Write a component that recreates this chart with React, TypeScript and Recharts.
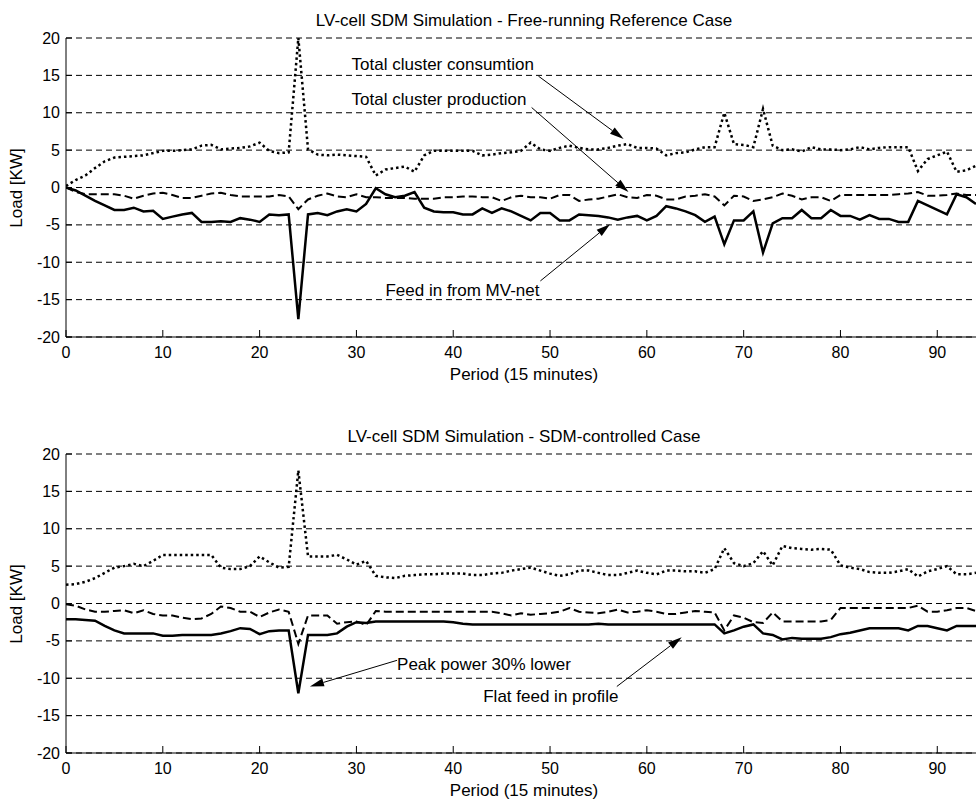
import React from 'react';
import { LineChart, Line, XAxis, YAxis, CartesianGrid, ReferenceLine, ReferenceDot } from 'recharts';

// values, one entry per 15-minute period (0..94)
const refConsumption = [
  0.2, 1.0, 1.6, 2.6, 3.5, 4.0, 4.1, 4.2, 4.3, 4.6,
  4.9, 4.9, 5.0, 5.1, 5.6, 5.7, 5.1, 5.2, 5.3, 5.5,
  6.0, 4.9, 4.6, 4.7, 20.0, 5.1, 4.4, 4.3, 4.4, 4.3,
  4.2, 4.1, 1.6, 2.4, 2.6, 2.8, 2.1, 4.3, 4.9, 4.9,
  4.9, 4.9, 4.9, 4.3, 4.4, 4.6, 4.7, 4.9, 6.0, 5.1,
  4.9, 5.3, 5.6, 5.3, 5.1, 5.1, 5.3, 5.6, 5.8, 5.3,
  5.3, 5.2, 4.3, 4.6, 4.7, 5.1, 5.4, 5.4, 10.0, 5.8,
  5.7, 5.4, 10.5, 5.6, 5.0, 5.1, 4.8, 5.4, 5.1, 5.1,
  5.0, 5.1, 5.4, 5.1, 5.3, 5.4, 5.4, 5.4, 2.2, 3.8,
  4.3, 4.8, 2.1, 2.3, 2.9,
];
const refProduction = [
  0, -0.6, -0.9, -0.9, -0.9, -0.9, -1.1, -1.5, -1.1, -0.8,
  -0.7, -1.0, -1.4, -1.4, -1.1, -0.8, -0.7, -1.0, -1.2, -1.2,
  -1.2, -1.2, -1.0, -1.2, -2.9, -1.6, -1.1, -0.8, -1.2, -1.3,
  -0.9, -1.3, -1.3, -1.4, -1.4, -1.4, -1.5, -1.5, -1.5, -1.3,
  -1.3, -1.2, -1.2, -1.3, -1.3, -1.8, -1.3, -1.1, -1.3, -1.3,
  -1.5, -1.0, -1.0, -1.8, -1.6, -1.5, -1.2, -0.9, -1.3, -1.4,
  -1.0, -1.1, -1.6, -1.6, -1.2, -1.1, -0.9, -1.2, -2.4, -1.1,
  -1.2, -1.8, -1.6, -1.3, -0.8, -1.1, -1.6, -1.3, -1.3, -1.8,
  -1.0, -1.0, -1.0, -1.0, -1.0, -1.0, -0.9, -0.8, -0.6, -1.1,
  -1.1, -1.0, -0.8, -1.0, -1.0,
];
const refFeedIn = [
  0, -0.4, -1.1, -1.8, -2.4, -3.0, -3.0, -2.7, -3.2, -3.1,
  -4.2, -3.9, -3.6, -3.4, -4.6, -4.6, -4.5, -4.6, -4.1, -4.3,
  -4.6, -3.6, -3.7, -3.6, -17.6, -3.6, -3.4, -3.7, -3.2, -2.9,
  -3.2, -2.2, -0.1, -0.9, -1.3, -1.1, -0.6, -2.7, -3.2, -3.3,
  -3.3, -3.6, -3.6, -2.8, -3.4, -2.8, -3.2, -3.8, -4.4, -3.4,
  -3.4, -4.4, -4.4, -3.6, -3.7, -3.8, -4.0, -4.3, -4.0, -3.8,
  -4.4, -3.8, -2.5, -2.8, -3.2, -3.7, -4.6, -3.9, -7.6, -4.4,
  -4.4, -3.2, -8.7, -4.8, -4.1, -4.1, -3.0, -4.1, -4.1, -3.0,
  -3.8, -3.8, -4.3, -3.7, -4.2, -4.2, -4.6, -4.6, -1.8, -2.4,
  -3.0, -3.6, -0.9, -1.3, -2.2,
];

const sdmConsumption = [
  2.5, 2.6, 2.9, 3.4, 4.1, 4.8, 5.0, 5.3, 5.0, 5.7,
  6.5, 6.5, 6.5, 6.5, 6.5, 6.5, 4.8, 4.6, 4.6, 5.0,
  6.3, 5.5, 4.8, 4.9, 17.8, 6.3, 6.3, 6.3, 6.5, 5.9,
  5.2, 5.7, 3.7, 3.5, 3.4, 3.7, 3.8, 3.9, 3.9, 4.0,
  4.0, 4.0, 3.8, 3.8, 4.0, 4.1, 4.4, 4.6, 4.8, 4.4,
  4.0, 3.7, 3.9, 4.4, 4.4, 4.1, 3.8, 3.8, 4.1, 4.4,
  4.1, 3.9, 4.4, 4.4, 4.3, 4.3, 4.1, 4.6, 7.4, 5.4,
  5.0, 5.4, 7.0, 5.1, 7.7, 7.4, 7.3, 7.2, 7.3, 7.2,
  5.1, 4.8, 4.6, 4.2, 4.1, 4.1, 4.3, 4.6, 3.6, 4.3,
  4.6, 5.0, 3.9, 3.9, 4.1,
];
const sdmProduction = [
  -0.1, -0.3, -0.8, -1.1, -1.1, -1.0, -0.9, -1.3, -0.9, -1.4,
  -1.6, -1.6, -1.9, -2.1, -2.0, -1.4, -0.4, -0.6, -1.1, -1.1,
  -1.8, -1.2, -0.8, -1.1, -5.4, -1.6, -1.6, -1.6, -2.7, -2.5,
  -2.4, -2.9, -1.0, -1.1, -1.1, -1.1, -1.1, -1.1, -1.1, -1.1,
  -1.1, -1.1, -1.1, -1.1, -1.1, -1.3, -1.6, -1.3, -1.5, -1.4,
  -1.3, -1.1, -0.6, -1.1, -1.2, -1.3, -1.1, -0.8, -1.2, -1.1,
  -0.9, -1.1, -1.4, -1.4, -1.2, -1.0, -1.1, -1.2, -3.6, -1.6,
  -1.9, -2.5, -2.6, -1.2, -2.4, -2.4, -2.4, -2.4, -2.4, -2.2,
  -0.6, -0.6, -0.6, -0.6, -0.6, -0.6, -0.6, -0.6, -0.3, -1.1,
  -1.1, -0.9, -0.6, -0.6, -1.0,
];
const sdmFeedIn = [
  -2.1, -2.1, -2.2, -2.3, -3.0, -3.6, -4.0, -4.0, -4.0, -4.0,
  -4.3, -4.3, -4.2, -4.2, -4.2, -4.2, -4.0, -3.7, -3.3, -3.4,
  -4.1, -3.7, -3.6, -3.6, -12.0, -4.2, -4.2, -4.2, -4.0, -3.1,
  -2.5, -2.6, -2.4, -2.4, -2.4, -2.4, -2.4, -2.4, -2.4, -2.4,
  -2.5, -2.7, -2.8, -2.8, -2.8, -2.8, -2.8, -2.8, -2.8, -2.8,
  -2.8, -2.8, -2.8, -2.8, -2.8, -2.7, -2.8, -2.8, -2.8, -2.8,
  -2.8, -2.8, -2.8, -2.8, -2.8, -2.8, -2.8, -2.8, -4.0, -3.6,
  -3.1, -2.8, -4.0, -4.2, -4.8, -4.6, -4.7, -4.7, -4.7, -4.5,
  -4.1, -3.9, -3.6, -3.3, -3.3, -3.3, -3.3, -3.6, -3.0, -3.0,
  -3.3, -3.6, -3.0, -3.0, -3.0,
];

const xTicks = [0, 10, 20, 30, 40, 50, 60, 70, 80, 90];
const yTicks = [-20, -15, -10, -5, 0, 5, 10, 15, 20];

// annotations, in data units
const refNotes = [
  { text: 'Total cluster consumtion', x: 29.5, y: 16.4 },
  { text: 'Total cluster production', x: 29.5, y: 11.8 },
  { text: 'Feed in from MV-net', x: 33.0, y: -13.8 },
];
const refArrows = [
  { from: [48.8, 14.9], to: [57.6, 6.5] },
  { from: [48.1, 10.7], to: [58.1, -0.6] },
  { from: [49.0, -12.5], to: [56.2, -4.9] },
];
const sdmNotes = [
  { text: 'Peak power 30% lower', x: 34.2, y: -8.1 },
  { text: 'Flat feed in profile', x: 43.1, y: -12.5 },
];
const sdmArrows = [
  { from: [34.2, -7.6], to: [25.2, -11.1] },
  { from: [56.9, -11.1], to: [63.6, -4.5] },
];

const FONT = '"Liberation Sans", Arial, Helvetica, sans-serif';

function buildRows(cons: number[], prod: number[], feed: number[]) {
  return cons.map((c, i) => ({ period: i, consumption: c, production: prod[i], feedIn: feed[i] }));
}

const BottomTick = (props: any) => {
  const { x, y, payload } = props;
  return (
    <g>
      <line x1={x} x2={x} y1={y} y2={y - 7} stroke="#000" />
      <text x={x} y={y + 15} textAnchor="middle" dominantBaseline="central" fontSize={16} fontFamily={FONT} fill="#000">
        {payload.value}
      </text>
    </g>
  );
};

const TopTick = (props: any) => {
  const { x, y } = props;
  return <line x1={x} x2={x} y1={y} y2={y + 7} stroke="#000" />;
};

const LeftTick = (props: any) => {
  const { x, y, payload } = props;
  return (
    <g>
      <line x1={x} x2={x + 6} y1={y} y2={y} stroke="#000" />
      <text x={x - 6} y={y} textAnchor="end" dominantBaseline="central" fontSize={16} fontFamily={FONT} fill="#000">
        {payload.value}
      </text>
    </g>
  );
};

const Arrow = (p: any) => {
  const { x1, y1, x2, y2 } = p;
  const a = Math.atan2(y2 - y1, x2 - x1);
  const len = 14;
  const half = 4;
  const bx = x2 - len * Math.cos(a);
  const by = y2 - len * Math.sin(a);
  const pts = `${x2},${y2} ${bx + half * Math.sin(a)},${by - half * Math.cos(a)} ${bx - half * Math.sin(a)},${by + half * Math.cos(a)}`;
  return (
    <g>
      <line x1={x1} y1={y1} x2={bx} y2={by} stroke="#000" strokeWidth={1} />
      <polygon points={pts} fill="#000" />
    </g>
  );
};

const labelStyle: React.CSSProperties = {
  position: 'absolute',
  transform: 'translate(-50%, -50%)',
  whiteSpace: 'nowrap',
  fontSize: 17,
  lineHeight: 1,
  fontFamily: FONT,
  color: '#000',
};

interface PanelProps {
  top: number;
  title: string;
  rows: any[];
  notes: { text: string; x: number; y: number }[];
  arrows: { from: number[]; to: number[] }[];
}

function Panel({ top, title, rows, notes, arrows }: PanelProps) {
  return (
    <div style={{ position: 'absolute', left: 0, top, width: 976, height: 382 }}>
      <LineChart width={976} height={382} data={rows} margin={{ top: 38, right: 0, left: 0, bottom: 0 }}>
        <CartesianGrid vertical={false} stroke="#000" strokeDasharray="6 4" />
        <XAxis
          dataKey="period"
          type="number"
          domain={[0, 94]}
          allowDataOverflow
          ticks={xTicks}
          height={45}
          tickSize={0}
          tickMargin={0}
          tickLine={false}
          axisLine={{ stroke: '#000' }}
          tick={<BottomTick />}
        />
        <XAxis
          xAxisId="top"
          orientation="top"
          dataKey="period"
          type="number"
          domain={[0, 94]}
          allowDataOverflow
          ticks={xTicks}
          height={0}
          tickSize={0}
          tickMargin={0}
          tickLine={false}
          axisLine={{ stroke: '#000' }}
          tick={<TopTick />}
        />
        <YAxis
          type="number"
          domain={[-20, 20]}
          ticks={yTicks}
          width={66}
          tickSize={0}
          tickMargin={0}
          tickLine={false}
          axisLine={{ stroke: '#000' }}
          tick={<LeftTick />}
        />
        <Line dataKey="consumption" type="linear" stroke="#000" strokeWidth={2.5} strokeDasharray="2.5 3" dot={false} isAnimationActive={false} />
        <Line dataKey="production" type="linear" stroke="#000" strokeWidth={2} strokeDasharray="8 4" dot={false} isAnimationActive={false} />
        <Line dataKey="feedIn" type="linear" stroke="#000" strokeWidth={2.5} dot={false} isAnimationActive={false} />
        {arrows.map((a, i) => (
          <ReferenceLine
            key={'a' + i}
            segment={[{ x: a.from[0], y: a.from[1] }, { x: a.to[0], y: a.to[1] }]}
            shape={Arrow}
          />
        ))}
        {notes.map((n) => (
          <ReferenceDot
            key={n.text}
            x={n.x}
            y={n.y}
            r={0}
            shape={(p: any) => (
              <text x={p.cx} y={p.cy} dominantBaseline="central" fontSize={17} fontFamily={FONT} fill="#000">
                {n.text}
              </text>
            )}
          />
        ))}
      </LineChart>
      <div style={{ ...labelStyle, left: 524, top: 20 }}>{title}</div>
      <div style={{ ...labelStyle, left: 524, top: 374 }}>Period (15 minutes)</div>
      <div style={{ ...labelStyle, left: 16, top: 188, transform: 'translate(-50%, -50%) rotate(-90deg)' }}>Load [KW]</div>
    </div>
  );
}

export default function App() {
  return (
    <div style={{ position: 'absolute', left: 0, top: 0, width: 976, height: 801, background: '#fff', overflow: 'hidden' }}>
      <Panel
        top={0}
        title="LV-cell SDM Simulation - Free-running Reference Case"
        rows={buildRows(refConsumption, refProduction, refFeedIn)}
        notes={refNotes}
        arrows={refArrows}
      />
      <Panel
        top={416}
        title="LV-cell SDM Simulation - SDM-controlled Case"
        rows={buildRows(sdmConsumption, sdmProduction, sdmFeedIn)}
        notes={sdmNotes}
        arrows={sdmArrows}
      />
    </div>
  );
}
